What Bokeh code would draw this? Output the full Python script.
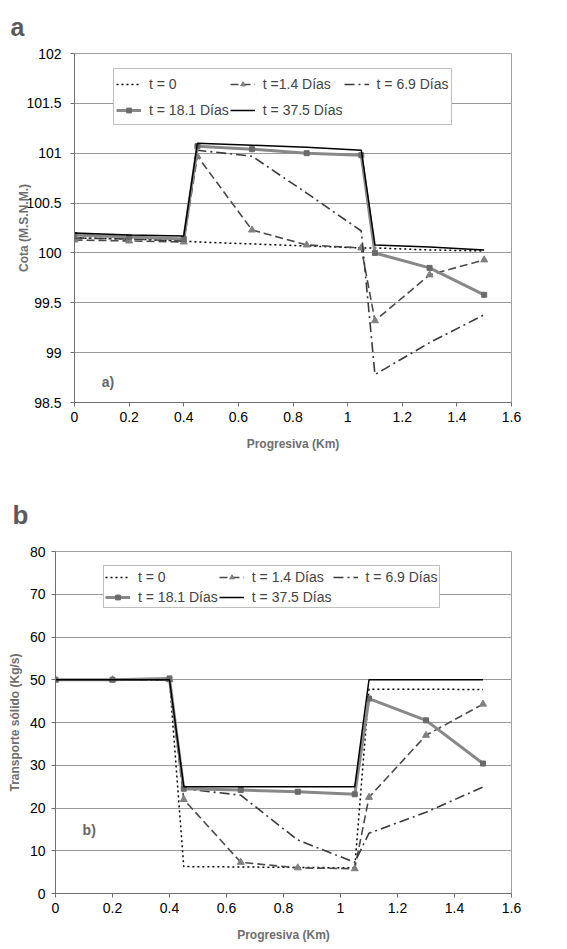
from bokeh.plotting import figure
from bokeh.models import Range1d, FixedTicker, Legend, LegendItem, Label, Title
from bokeh.embed import file_html
from bokeh.resources import INLINE

FONT = "Liberation Sans"

# ---------------- data ----------------
x_km = [0, 0.2, 0.4, 0.45, 0.65, 0.85, 1.05, 1.1, 1.3, 1.5]

series_labels_a = ["t = 0", "t =1.4 Días", "t = 6.9 Días", "t = 18.1 Días", "t = 37.5 Días"]
series_labels_b = ["t = 0", "t = 1.4 Días", "t = 6.9 Días", "t = 18.1 Días", "t = 37.5 Días"]

cota_t0 = [100.15, 100.14, 100.12, 100.11, 100.09, 100.07, 100.05, 100.05, 100.03, 100.02]
cota_t1_4 = [100.13, 100.12, 100.11, 100.97, 100.23, 100.08, 100.05, 99.32, 99.78, 99.93]
cota_t6_9 = [100.15, 100.14, 100.12, 101.03, 100.97, 100.60, 100.22, 98.78, 99.10, 99.38]
cota_t18_1 = [100.18, 100.16, 100.14, 101.07, 101.04, 101.00, 100.98, 100.00, 99.85, 99.58]
cota_t37_5 = [100.20, 100.18, 100.17, 101.10, 101.08, 101.06, 101.03, 100.08, 100.06, 100.03]

trans_t0 = [50, 50, 50, 6.3, 6.2, 6.1, 6.0, 47.8, 47.8, 47.7]
trans_t1_4 = [50, 50, 50, 22.0, 7.3, 6.0, 5.8, 22.5, 37.0, 44.3]
trans_t6_9 = [50, 50, 50, 24.5, 23.0, 12.5, 7.3, 14.1, 19.0, 24.9]
trans_t18_1 = [50, 50, 50.3, 24.5, 24.2, 23.8, 23.2, 45.6, 40.5, 30.4]
trans_t37_5 = [50, 50, 50, 25, 25, 25, 25, 50, 50, 50]

x_ticks = [0, 0.2, 0.4, 0.6, 0.8, 1.0, 1.2, 1.4, 1.6]
x_tick_labels = ["0", "0.2", "0.4", "0.6", "0.8", "1", "1.2", "1.4", "1.6"]
ya_ticks = [98.5, 99, 99.5, 100, 100.5, 101, 101.5, 102]
ya_tick_labels = ["98.5", "99", "99.5", "100", "100.5", "101", "101.5", "102"]
yb_ticks = [0, 10, 20, 30, 40, 50, 60, 70, 80]
yb_tick_labels = ["0", "10", "20", "30", "40", "50", "60", "70", "80"]

GRAY = "#808080"


def style(p, yticks, ylabels, xtitle, ytitle, ylab_stand, ystand):
    p.xgrid.grid_line_color = None
    p.ygrid.grid_line_color = "#9a9a9a"
    p.ygrid.grid_line_width = 1
    p.outline_line_color = "#a0a0a0"
    p.xaxis.ticker = FixedTicker(ticks=x_ticks)
    p.xaxis.major_label_overrides = dict(zip(x_ticks, x_tick_labels))
    p.yaxis.ticker = FixedTicker(ticks=yticks)
    p.yaxis.major_label_overrides = dict(zip(yticks, ylabels))
    for ax in (p.xaxis[0], p.yaxis[0]):
        ax.axis_line_color = "#707070"
        ax.major_tick_line_color = "#707070"
        ax.major_tick_out = 4
        ax.major_tick_in = 0
        ax.minor_tick_line_color = None
        ax.major_label_text_font = FONT
        ax.major_label_text_font_size = "14px"
        ax.major_label_text_color = "#000000"
        ax.axis_label_text_font = FONT
        ax.axis_label_text_font_size = "12px"
        ax.axis_label_text_font_style = "bold"
        ax.axis_label_text_color = "#6e6e6e"
    p.xaxis.axis_label = xtitle
    p.yaxis.axis_label = ytitle
    p.xaxis.major_label_standoff = 5
    p.xaxis.axis_label_standoff = 12
    p.yaxis.major_label_standoff = ylab_stand
    p.yaxis.axis_label_standoff = ystand


def add_series(p, ys, labels):
    r0 = p.line(x_km, ys[0], line_color="#000000", line_width=1.5, line_dash="2 3")
    r1 = p.line(x_km, ys[1], line_color="#4a4a4a", line_width=1.6, line_dash="8 4")
    m1 = p.scatter(x_km, ys[1], marker="triangle", size=7, fill_color=GRAY, line_color=GRAY)
    r2 = p.line(x_km, ys[2], line_color="#3a3a3a", line_width=1.6, line_dash="10 4 2 4")
    r3 = p.line(x_km, ys[3], line_color="#888888", line_width=3)
    m3 = p.scatter(x_km, ys[3], marker="square", size=5, fill_color="#6a6a6a", line_color="#6a6a6a")
    r4 = p.line(x_km, ys[4], line_color="#000000", line_width=1.5)
    return [
        LegendItem(label=labels[0], renderers=[r0]),
        LegendItem(label=labels[1], renderers=[r1, m1]),
        LegendItem(label=labels[2], renderers=[r2]),
        LegendItem(label=labels[3], renderers=[r3, m3]),
        LegendItem(label=labels[4], renderers=[r4]),
    ]


def make_legend(items, loc, label_h, pad):
    lg = Legend(items=items, location=loc, orientation="horizontal", ncols=3)
    lg.label_text_font = FONT
    lg.label_text_font_size = "14px"
    lg.label_height = label_h
    lg.glyph_height = 12
    lg.glyph_width = 25
    lg.label_standoff = 8
    lg.spacing = 1
    lg.padding = pad
    lg.margin = 0
    lg.border_line_color = "#808080"
    lg.border_line_width = 1
    lg.background_fill_alpha = 1
    return lg


def panel_title(text, offset, standoff, size):
    return Title(text=text, align="left", vertical_align="top", offset=offset,
                 standoff=standoff, text_font=FONT, text_font_size=size,
                 text_font_style="bold", text_color="#5a5a5a")


# ---------------- panel a ----------------
pa = figure(width=536, height=470, min_border_left=74, min_border_right=25,
            min_border_top=53, min_border_bottom=68,
            x_range=Range1d(0, 1.6), y_range=Range1d(98.5, 102),
            output_backend="svg", toolbar_location=None)
style(pa, ya_ticks, ya_tick_labels, "Progresiva (Km)", "Cota (M.S.N.M.)", 9, -8)
items_a = add_series(pa, [cota_t0, cota_t1_4, cota_t6_9, cota_t18_1, cota_t37_5], series_labels_a)
pa.add_layout(make_legend(items_a, (39, 277), 25, 2))
pa.add_layout(Label(x=0.1, y=98.63, text="a)", text_font=FONT, text_font_size="14px",
                    text_font_style="bold", text_color="#666666"))
pa.add_layout(panel_title("a", -64, 21, "25px"), "above")

# ---------------- panel b ----------------
pb = figure(width=536, height=475, min_border_left=55, min_border_right=25,
            min_border_top=81, min_border_bottom=52,
            x_range=Range1d(0, 1.6), y_range=Range1d(0, 80),
            output_backend="svg", toolbar_location=None)
style(pb, yb_ticks, yb_tick_labels, "Progresiva (Km)", "Transporte sólido (Kg/s)", 6, 5)
items_b = add_series(pb, [trans_t0, trans_t1_4, trans_t6_9, trans_t18_1, trans_t37_5], series_labels_b)
pb.add_layout(make_legend(items_b, (48, 285), 19, 1))
pb.add_layout(Label(x=0.095, y=12.9, text="b)", text_font=FONT, text_font_size="14px",
                    text_font_style="bold", text_color="#666666"))
pb.add_layout(panel_title("b", -43, 40, "26px"), "above")

open("out.html", "w").write(file_html([pa, pb], INLINE))
